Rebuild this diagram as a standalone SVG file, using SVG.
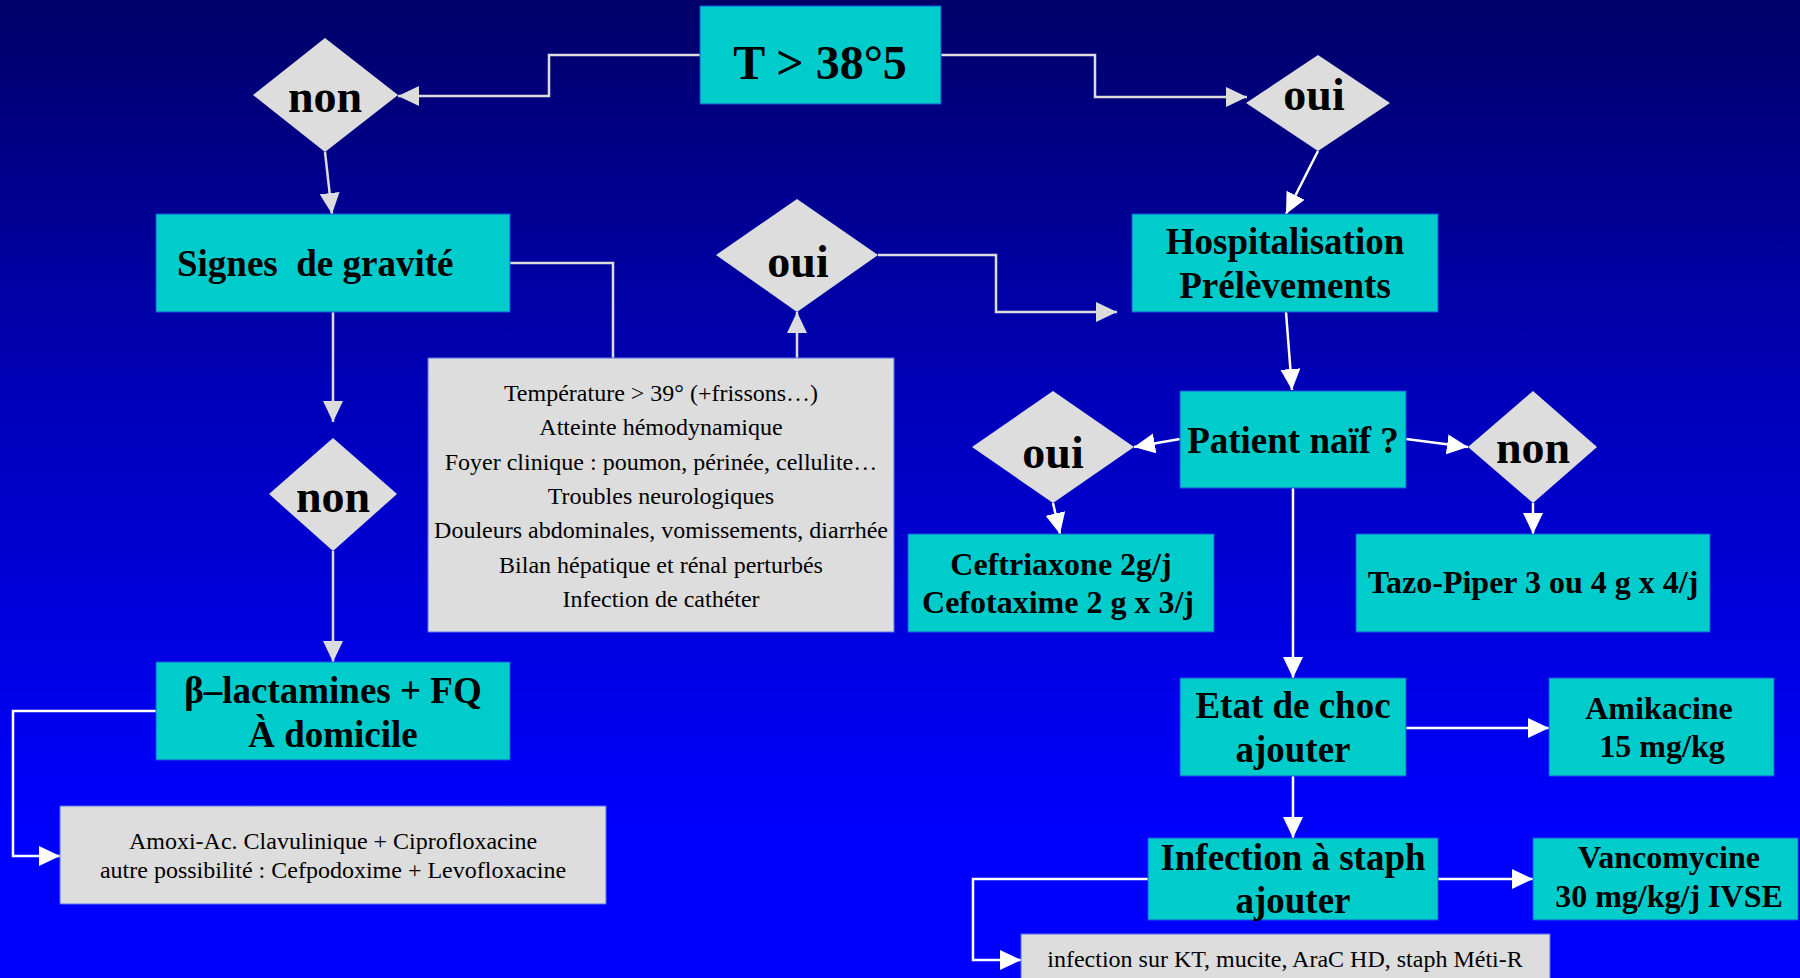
<svg xmlns="http://www.w3.org/2000/svg" width="1800" height="978" viewBox="0 0 1800 978">
<defs>
<linearGradient id="bg" x1="0" y1="0" x2="0" y2="1">
<stop offset="0" stop-color="#000068"/>
<stop offset="0.4" stop-color="#0000b8"/>
<stop offset="0.85" stop-color="#0000ff"/>
<stop offset="1" stop-color="#0000ff"/>
</linearGradient>
<marker id="ag" markerUnits="userSpaceOnUse" markerWidth="22" markerHeight="22" refX="21" refY="10" orient="auto">
<path d="M0,0 L21,10 L0,20 z" fill="#dcdcdc"/>
</marker>
<marker id="aw" markerUnits="userSpaceOnUse" markerWidth="22" markerHeight="22" refX="21" refY="10" orient="auto">
<path d="M0,0 L21,10 L0,20 z" fill="#ffffff"/>
</marker>
</defs>
<style>
.box{fill:#00cccc;stroke:#1a55e0;stroke-width:1}
.gbox{fill:#dddddd;stroke:#5570e8;stroke-width:1}
.dia{fill:#dddddd}
.big{font-family:"Liberation Serif","Times New Roman",serif;font-weight:bold;font-size:37px;fill:#000;text-anchor:middle}
.med{font-family:"Liberation Serif","Times New Roman",serif;font-weight:bold;font-size:32px;fill:#000;text-anchor:middle}
.dt{font-family:"Liberation Serif","Times New Roman",serif;font-weight:bold;font-size:46px;fill:#000;text-anchor:middle}
.sm{font-family:"Liberation Serif","Times New Roman",serif;font-size:24px;fill:#000;text-anchor:middle}
.cg{fill:none;stroke:#dcdcdc;stroke-width:2.5}
.cw{fill:none;stroke:#ffffff;stroke-width:2.5}
</style>
<rect x="0" y="0" width="1800" height="978" fill="url(#bg)"/>
<g id="connectors">
<path class="cg" d="M700,55 H549 V96 H398" marker-end="url(#ag)"/>
<path class="cg" d="M941,55 H1095 V97 H1247" marker-end="url(#ag)"/>
<path class="cg" d="M325,152 L332,214" marker-end="url(#ag)"/>
<path class="cw" d="M1318,151 L1286,214" marker-end="url(#aw)"/>
<path class="cg" d="M510,263 H613 V358"/>
<path class="cg" d="M333,312 V422" marker-end="url(#ag)"/>
<path class="cg" d="M797,358 V312" marker-end="url(#ag)"/>
<path class="cg" d="M878,255 H996 V312 H1117" marker-end="url(#ag)"/>
<path class="cg" d="M333,551 V662" marker-end="url(#ag)"/>
<path class="cw" d="M156,711 H13 V856 H60" marker-end="url(#aw)"/>
<path class="cw" d="M1286,312 L1292,390" marker-end="url(#aw)"/>
<path class="cw" d="M1180,439 L1134,447" marker-end="url(#aw)"/>
<path class="cw" d="M1406,439 L1468,447" marker-end="url(#aw)"/>
<path class="cw" d="M1053,503 L1060,534" marker-end="url(#aw)"/>
<path class="cw" d="M1533,503 V534" marker-end="url(#aw)"/>
<path class="cw" d="M1293,488 V678" marker-end="url(#aw)"/>
<path class="cw" d="M1406,728 H1549" marker-end="url(#aw)"/>
<path class="cw" d="M1293,776 V838" marker-end="url(#aw)"/>
<path class="cw" d="M1438,879 H1533" marker-end="url(#aw)"/>
<path class="cw" d="M1148,879 H973 V960 H1021" marker-end="url(#aw)"/>
</g>
<g id="n-temp">
<rect class="box" x="700" y="6" width="241" height="98"/>
<text class="big" x="820" y="79" style="font-size:48px">T &gt; 38°5</text>
</g>
<g id="n-non1">
<polygon class="dia" points="325,38 398,95 325,152 253,95"/>
<text class="dt" x="325" y="112">non</text>
</g>
<g id="n-oui1">
<polygon class="dia" points="1318,55 1390,103 1318,151 1246,103"/>
<text class="dt" x="1314" y="110">oui</text>
</g>
<g id="n-signes">
<rect class="box" x="156" y="214" width="354" height="98"/>
<text class="big" x="177" y="276" style="text-anchor:start" xml:space="preserve">Signes  de gravité</text>
</g>
<g id="n-oui2">
<polygon class="dia" points="797,199 878,255 797,312 716,255"/>
<text class="dt" x="798" y="277">oui</text>
</g>
<g id="n-hosp">
<rect class="box" x="1132" y="214" width="306" height="98"/>
<text class="big" x="1285" y="254">Hospitalisation</text>
<text class="big" x="1285" y="298">Prélèvements</text>
</g>
<g id="n-criteres">
<rect class="gbox" x="428" y="358" width="466" height="274"/>
<text class="sm" x="661" y="401">Température &gt; 39° (+frissons…)</text>
<text class="sm" x="661" y="435">Atteinte hémodynamique</text>
<text class="sm" x="661" y="470">Foyer clinique : poumon, périnée, cellulite…</text>
<text class="sm" x="661" y="504">Troubles neurologiques</text>
<text class="sm" x="661" y="538">Douleurs abdominales, vomissements, diarrhée</text>
<text class="sm" x="661" y="573">Bilan hépatique et rénal perturbés</text>
<text class="sm" x="661" y="607">Infection de cathéter</text>
</g>
<g id="n-non2">
<polygon class="dia" points="333,438 397,494 333,551 269,494"/>
<text class="dt" x="333" y="512">non</text>
</g>
<g id="n-beta">
<rect class="box" x="156" y="662" width="354" height="98"/>
<text class="big" x="333" y="703">β–lactamines + FQ</text>
<text class="big" x="333" y="747">À domicile</text>
</g>
<g id="n-amoxi">
<rect class="gbox" x="60" y="806" width="546" height="98"/>
<text class="sm" x="333" y="849">Amoxi-Ac. Clavulinique + Ciprofloxacine</text>
<text class="sm" x="333" y="878">autre possibilité : Cefpodoxime + Levofloxacine</text>
</g>
<g id="n-patient">
<rect class="box" x="1180" y="391" width="226" height="97"/>
<text class="big" x="1293" y="453">Patient naïf ?</text>
</g>
<g id="n-oui3">
<polygon class="dia" points="1053,391 1134,447 1053,503 972,447"/>
<text class="dt" x="1053" y="468">oui</text>
</g>
<g id="n-non3">
<polygon class="dia" points="1533,391 1597,447 1533,503 1468,447"/>
<text class="dt" x="1533" y="463">non</text>
</g>
<g id="n-ceftri">
<rect class="box" x="908" y="534" width="306" height="98"/>
<text class="med" x="1061" y="575">Ceftriaxone 2g/j</text>
<text class="med" x="1058" y="613">Cefotaxime 2 g x 3/j</text>
</g>
<g id="n-tazo">
<rect class="box" x="1356" y="534" width="354" height="98"/>
<text class="med" x="1533" y="593">Tazo-Piper 3 ou 4 g x 4/j</text>
</g>
<g id="n-etat">
<rect class="box" x="1180" y="678" width="226" height="98"/>
<text class="big" x="1293" y="718">Etat de choc</text>
<text class="big" x="1293" y="762">ajouter</text>
</g>
<g id="n-amika">
<rect class="box" x="1549" y="678" width="225" height="98"/>
<text class="med" x="1659" y="719">Amikacine</text>
<text class="med" x="1662" y="757">15 mg/kg</text>
</g>
<g id="n-staph">
<rect class="box" x="1148" y="838" width="290" height="82"/>
<text class="big" x="1293" y="870">Infection à staph</text>
<text class="big" x="1293" y="913">ajouter</text>
</g>
<g id="n-vanco">
<rect class="box" x="1533" y="838" width="265" height="82"/>
<text class="med" x="1669" y="868">Vancomycine</text>
<text class="med" x="1669" y="907">30 mg/kg/j IVSE</text>
</g>
<g id="n-kt">
<rect class="gbox" x="1021" y="934" width="529" height="60"/>
<text class="sm" x="1285" y="967">infection sur KT, mucite, AraC HD, staph Méti-R</text>
</g>
</svg>
